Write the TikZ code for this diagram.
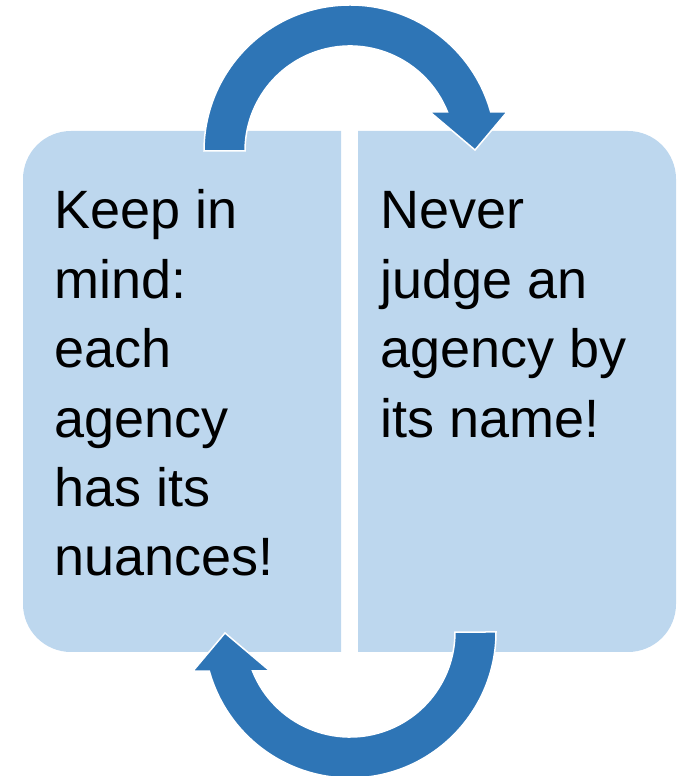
\documentclass[tikz,border=0pt]{standalone}
\usepackage{fontspec}
\setmainfont{Liberation Sans}
\definecolor{boxblue}{HTML}{BDD7EE}
\definecolor{arrowblue}{HTML}{2E75B6}
\begin{document}
\begin{tikzpicture}[x=1pt,y=1pt,
  boxfill/.style={fill=boxblue},
  arrowshape/.style={fill=arrowblue, draw=white, line width=1.5pt, line join=miter},
  boxtext/.style={anchor=base west, inner sep=0pt, text=black}]
\useasboundingbox (0,0) rectangle (682,776);
% left box (rounded on the left)
\fill[boxfill] (341,645) -- (71,645) arc[start angle=90,end angle=180,radius=48pt]
  -- (23,172) arc[start angle=180,end angle=270,radius=48pt] -- (341,124) -- cycle;
% right box (rounded on the right)
\fill[boxfill] (358,645) -- (628,645) arc[start angle=90,end angle=0,radius=48pt]
  -- (676,172) arc[start angle=0,end angle=-90,radius=48pt] -- (358,124) -- cycle;
% top arrow
\coordinate (topc) at (350,625);
\path[arrowshape] (204,625) arc[start angle=180,end angle=15.5,radius=146pt]
  -- (507,664) -- (475,626) -- (430,664) -- (447.5,664)
  arc[start angle=21.8,end angle=180,radius=105pt] -- cycle;
% bottom arrow
\coordinate (botc) at (350,144);
\path[arrowshape] (496,144) arc[start angle=0,end angle=-164.5,radius=146pt]
  -- (193,105) -- (225,143) -- (270,105) -- (252.5,105)
  arc[start angle=-158.2,end angle=0,radius=105pt] -- cycle;
% texts
\node[boxtext] (lefttext) at (54,547) {\parbox[t]{285pt}{\raggedright\fontsize{54}{69.4}\selectfont Keep in\\ mind:\\ each\\ agency\\ has its\\ nuances!}};
\node[boxtext] (righttext) at (380,547) {\parbox[t]{290pt}{\raggedright\fontsize{54}{69.4}\selectfont Never\\ judge an\\ agency by\\ its name!}};
\end{tikzpicture}
\end{document}
